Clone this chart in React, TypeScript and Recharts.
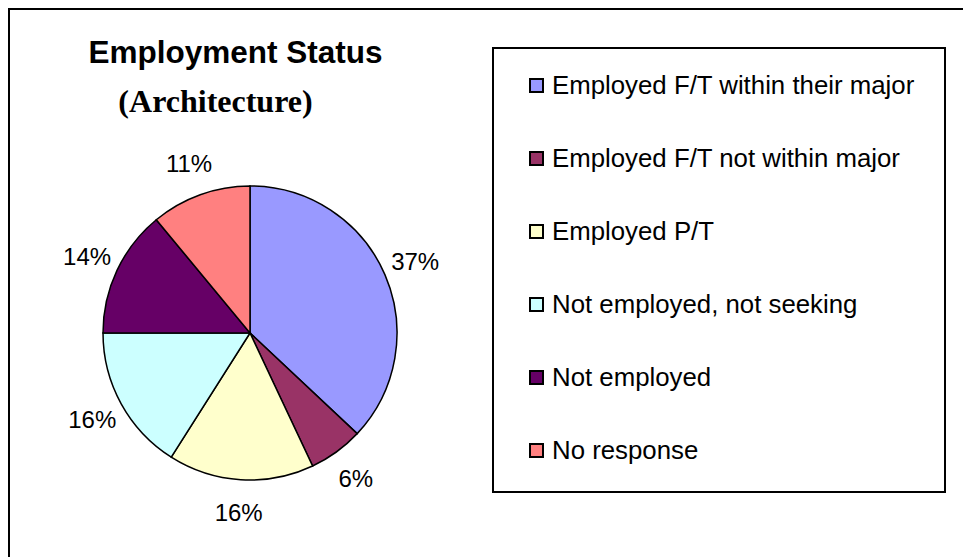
import React from 'react';
import {Cell, Legend, Pie, PieChart} from 'recharts';

const categories = [
    'Employed F/T within their major',
    'Employed F/T not within major',
    'Employed P/T',
    'Not employed, not seeking',
    'Not employed',
    'No response',
];
const shares = [37, 6, 16, 16, 14, 11];
const colors = ['#9999FF', '#993366', '#FFFFCC', '#CCFFFF', '#660066', '#FF8080'];

const TITLE = 'Employment Status';
const SUBTITLE = '(Architecture)';

const data = categories.map((name, i) => ({name, value: shares[i]}));

const RAD = Math.PI / 180;
const LABEL_RADIUS = 180;
const SANS = '"Liberation Sans", Arial, sans-serif';

const renderLabel = (props: any) => {
    const {cx, cy, midAngle, percent} = props;
    const x = cx + LABEL_RADIUS * Math.cos(-midAngle * RAD);
    const y = cy + LABEL_RADIUS * Math.sin(-midAngle * RAD);
    return (
        <text x={x} y={y} textAnchor="middle" dominantBaseline="central"
              fill="#000" fontSize={24} fontFamily={SANS}>
            {`${Math.round(percent * 100)}%`}
        </text>
    );
};

const renderLegend = (props: any) => {
    // keep the slice order, not the alphabetical one
    const payload = [...(props.payload || [])].sort(
        (a: any, b: any) => categories.indexOf(a.value) - categories.indexOf(b.value)
    );
    return (
        <div style={{
            boxSizing: 'border-box',
            width: 454,
            height: 446,
            border: '2px solid #000',
            background: '#fff',
        }}>
            {payload.map((entry: any, i: number) => (
                <div key={i} style={{height: 73, display: 'flex', alignItems: 'center'}}>
                    <span style={{
                        boxSizing: 'border-box',
                        display: 'inline-block',
                        width: 15,
                        height: 15,
                        marginLeft: 35,
                        marginRight: 8,
                        border: '2px solid #000',
                        background: entry.color,
                    }}/>
                    <span style={{fontFamily: SANS, fontSize: 25.8, color: '#000', lineHeight: 1}}>
                        {entry.value}
                    </span>
                </div>
            ))}
        </div>
    );
};

export default function App() {
    return (
        <div style={{
            position: 'relative',
            width: 961,
            height: 547,
            borderTop: '2px solid #000',
            borderLeft: '2px solid #000',
            background: '#fff',
        }}>
            <PieChart width={961} height={547} margin={{top: 0, right: 0, bottom: 0, left: 0}}>
                <Pie
                    data={data}
                    dataKey="value"
                    nameKey="name"
                    cx={240}
                    cy={323}
                    outerRadius={147}
                    startAngle={90}
                    endAngle={-270}
                    stroke="#000"
                    strokeWidth={1.5}
                    label={renderLabel}
                    labelLine={false}
                    isAnimationActive={false}
                >
                    {data.map((d, i) => (
                        <Cell key={d.name} fill={colors[i]}/>
                    ))}
                </Pie>
                <Legend
                    layout="vertical"
                    align="right"
                    verticalAlign="middle"
                    itemSorter={null}
                    content={renderLegend}
                    wrapperStyle={{left: 482, top: 37, width: 454, height: 446, right: 'auto'}}
                />
            </PieChart>
            <svg width={480} height={130} style={{position: 'absolute', left: 0, top: 0, pointerEvents: 'none'}}>
                <text x={225.5} y={53} textAnchor="middle" fontFamily={SANS} fontWeight="bold" fontSize={31.5}>
                    {TITLE}
                </text>
                <text x={205.5} y={102} textAnchor="middle" fontFamily='"Liberation Serif", "Times New Roman", serif'
                      fontWeight="bold" fontSize={32}>
                    {SUBTITLE}
                </text>
            </svg>
        </div>
    );
}
